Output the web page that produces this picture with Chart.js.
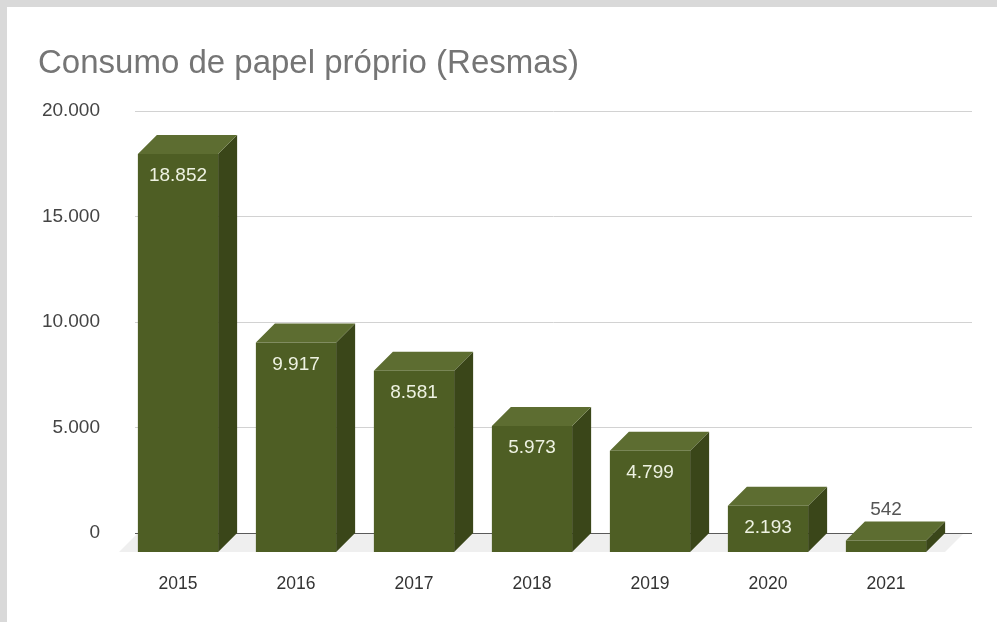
<!DOCTYPE html>
<html>
<head>
<meta charset="utf-8">
<script src="https://cdn.jsdelivr.net/npm/chart.js@4"></script>
<style>
  html, body { margin: 0; padding: 0; background: #d9d9d9; width: 997px; height: 622px; overflow: hidden; }
  #wrap { position: absolute; left: 7px; top: 7px; width: 990px; height: 615px; background: #fff; }
  canvas { display: block; }
</style>
</head>
<body>
<div id="wrap"><canvas id="c" width="990" height="615"></canvas></div>
<script>
const TITLE = 'Consumo de papel próprio (Resmas)';
const YEARS = ['2015', '2016', '2017', '2018', '2019', '2020', '2021'];
const RESMAS = [18852, 9917, 8581, 5973, 4799, 2193, 542];
const Y_TICKS = [0, 5000, 10000, 15000, 20000];
const Y_MAX = 21000;
const BACK_SHIFT = 900; // value offset between the bar fronts and the back wall

const FRONT = '#4e5e24';
const SIDE = '#3a4619';
const TOP = '#5d6d31';

// Portuguese thousands separator
const fmt = v => String(v).replace(/\B(?=(\d{3})+(?!\d))/g, '.');

Chart.defaults.font.family = '"Liberation Sans", Arial, sans-serif';

const box3d = {
  id: 'box3d',
  beforeDatasetsDraw(chart) {
    const { ctx, chartArea: a, scales } = chart;
    const y = scales.y, yg = scales.yg;
    const y0 = y.getPixelForValue(0);
    const yb = yg.getPixelForValue(0);
    const d = y0 - yb;
    ctx.save();
    // floor
    ctx.fillStyle = '#efefef';
    ctx.beginPath();
    ctx.moveTo(a.left, y0);
    ctx.lineTo(a.left + d, yb);
    ctx.lineTo(a.right + d, yb);
    ctx.lineTo(a.right, y0);
    ctx.closePath();
    ctx.fill();
    // back-wall grid lines
    ctx.lineWidth = 1;
    yg.ticks.forEach(t => {
      const py = Math.round(yg.getPixelForValue(t.value)) + 0.5;
      ctx.strokeStyle = t.value === 0 ? '#5a5a5a' : '#d2d2d2';
      ctx.beginPath();
      ctx.moveTo(a.left + d - 3, py);
      ctx.lineTo(a.right + d + 8, py);
      ctx.stroke();
    });
    ctx.restore();
  },
  afterDatasetsDraw(chart) {
    const { ctx, scales } = chart;
    const d = scales.y.getPixelForValue(0) - scales.yg.getPixelForValue(0);
    const meta = chart.getDatasetMeta(0);
    ctx.save();
    meta.data.forEach((bar, i) => {
      const { x, y: top, base, width } = bar.getProps(['x', 'y', 'base', 'width'], true);
      const l = x - width / 2, r = x + width / 2;
      // side face
      ctx.fillStyle = SIDE;
      ctx.beginPath();
      ctx.moveTo(r, top);
      ctx.lineTo(r + d, top - d);
      ctx.lineTo(r + d, base - d);
      ctx.lineTo(r, base);
      ctx.closePath();
      ctx.fill();
      // top face
      ctx.fillStyle = TOP;
      ctx.beginPath();
      ctx.moveTo(l, top);
      ctx.lineTo(l + d, top - d);
      ctx.lineTo(r + d, top - d);
      ctx.lineTo(r, top);
      ctx.closePath();
      ctx.fill();
      // value label
      ctx.font = '19px "Liberation Sans", Arial, sans-serif';
      ctx.textAlign = 'center';
      ctx.textBaseline = 'middle';
      const label = fmt(RESMAS[i]);
      if (base - top >= 40) {
        ctx.fillStyle = '#eef2e2';
        ctx.fillText(label, x, top + 22);
      } else {
        ctx.fillStyle = '#555';
        ctx.fillText(label, x, top - d - 12);
      }
    });
    ctx.restore();
  }
};

new Chart(document.getElementById('c'), {
  type: 'bar',
  data: {
    labels: YEARS,
    datasets: [{
      data: RESMAS,
      backgroundColor: FRONT,
      borderWidth: 0,
      barPercentage: 0.68,
      categoryPercentage: 1,
      yAxisID: 'y'
    }]
  },
  options: {
    responsive: false,
    animation: false,
    devicePixelRatio: 1,
    layout: { padding: { left: 31, right: 52, top: 0, bottom: 0 } },
    plugins: {
      legend: { display: false },
      tooltip: { enabled: false },
      title: {
        display: true,
        text: TITLE,
        align: 'start',
        color: '#757575',
        font: { size: 33, weight: 'normal' },
        padding: { top: 37, bottom: 25 }
      }
    },
    scales: {
      x: {
        grid: { display: false, drawTicks: false },
        border: { display: false },
        ticks: { color: '#333', font: { size: 17.5 }, padding: 22 },
        afterFit(s) { s.height = 70; s.paddingLeft = 0; s.paddingRight = 0; }
      },
      y: { display: false, min: 0, max: Y_MAX },
      yg: {
        position: 'left',
        min: -BACK_SHIFT,
        max: Y_MAX - BACK_SHIFT,
        grid: { display: false, drawTicks: false },
        border: { display: false },
        afterBuildTicks(s) { s.ticks = Y_TICKS.map(v => ({ value: v })); },
        ticks: { color: '#444', font: { size: 19 }, padding: 19, callback: v => fmt(v) },
        afterFit(s) { s.width = 81; s.paddingTop = 0; s.paddingBottom = 0; }
      }
    }
  },
  plugins: [box3d]
});
</script>
</body>
</html>
